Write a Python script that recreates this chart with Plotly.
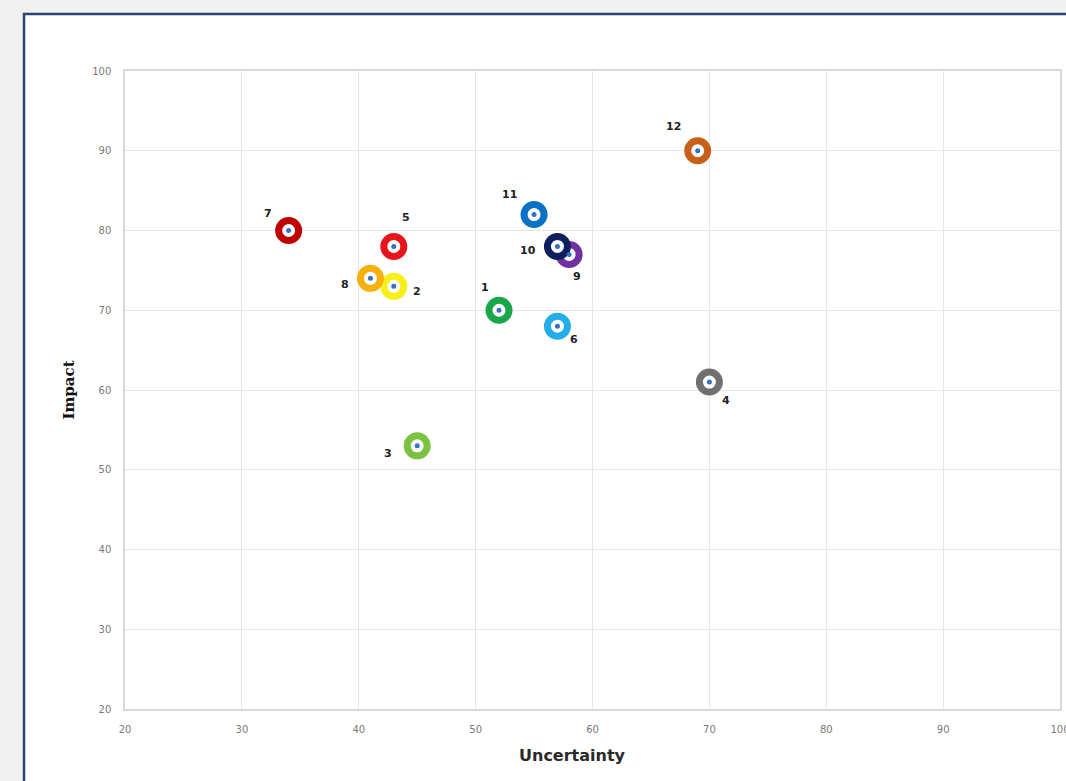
import plotly.graph_objects as go

# Risk items: uncertainty (x) vs impact (y)
labels = ["1", "2", "3", "4", "5", "6", "7", "8", "9", "10", "11", "12"]
uncertainty = [52, 43, 45, 70, 43, 57, 34, 41, 58, 57, 55, 69]
impact = [70, 73, 53, 61, 78, 68, 80, 74, 77, 78, 82, 90]
ring_colors = ["#18a84a", "#f7ef1a", "#7cc242", "#707070", "#e8141c", "#22aee8",
               "#c00000", "#f5b20f", "#7030a0", "#0d1f5c", "#0a72c4", "#c8601a"]
# label offsets in pixels (dx, dy; dy positive = downward)
label_dx = [-14, 23, -29, 17, 12, 17, -21, -25, 8, -29, -25, -24]
label_dy = [-23, 5, 8, 18, -29, 13, -17, 6, 22, 4, -20, -24]

x_ticks = [20, 30, 40, 50, 60, 70, 80, 90, 100]
y_ticks = [20, 30, 40, 50, 60, 70, 80, 90, 100]

fig = go.Figure()

# coloured donut rings with white centres
fig.add_trace(go.Scatter(
    x=uncertainty, y=impact, mode="markers",
    marker=dict(size=20, color="white",
                line=dict(color=ring_colors, width=7)),
    hoverinfo="skip", showlegend=False))

# small blue centre dots
fig.add_trace(go.Scatter(
    x=uncertainty, y=impact, mode="markers",
    marker=dict(size=5, color="#3a6fc4"),
    hoverinfo="skip", showlegend=False))

for lab, xv, yv, dx, dy in zip(labels, uncertainty, impact, label_dx, label_dy):
    fig.add_annotation(x=xv, y=yv, text=f"<b>{lab}</b>", showarrow=False,
                       xshift=dx, yshift=-dy,
                       font=dict(family="DejaVu Sans", size=11, color="#222222"))

# x-axis title
fig.add_annotation(x=0.479, y=0, xref="paper", yref="paper", yanchor="middle",
                   yshift=-46, showarrow=False, text="<b>Uncertainty</b>",
                   font=dict(family="DejaVu Sans", size=16, color="#2a2a2a"))

# framed white panel behind the chart
fig.add_shape(type="rect", xref="paper", yref="paper",
              x0=-0.108, x1=1.02, y0=-0.14, y1=1.0893,
              fillcolor="white", line=dict(color="#2c4472", width=2.5),
              layer="below")

axis_common = dict(showgrid=True, gridcolor="#e6e6e6", gridwidth=1.2,
                   showline=True, linecolor="#d9d9d9", linewidth=1.5, mirror=True,
                   zeroline=False, ticks="", ticklabeloverflow="allow",
                   automargin=False,
                   tickfont=dict(family="DejaVu Sans", size=10, color="#7a7a7a"))

fig.update_xaxes(range=[20, 100], tickvals=x_ticks, ticklabelstandoff=10,
                 **axis_common)
fig.update_yaxes(range=[20, 100], tickvals=y_ticks, ticklabelstandoff=10,
                 **axis_common,
                 title=dict(text="<b>Impact</b>", standoff=14,
                            font=dict(family="DejaVu Serif", size=15, color="#111111")))

fig.update_layout(width=1066, height=781,
                  margin=dict(l=125, r=6, t=71, b=72),
                  paper_bgcolor="#f1f1f1", plot_bgcolor="white")

fig.write_html("out.html")
